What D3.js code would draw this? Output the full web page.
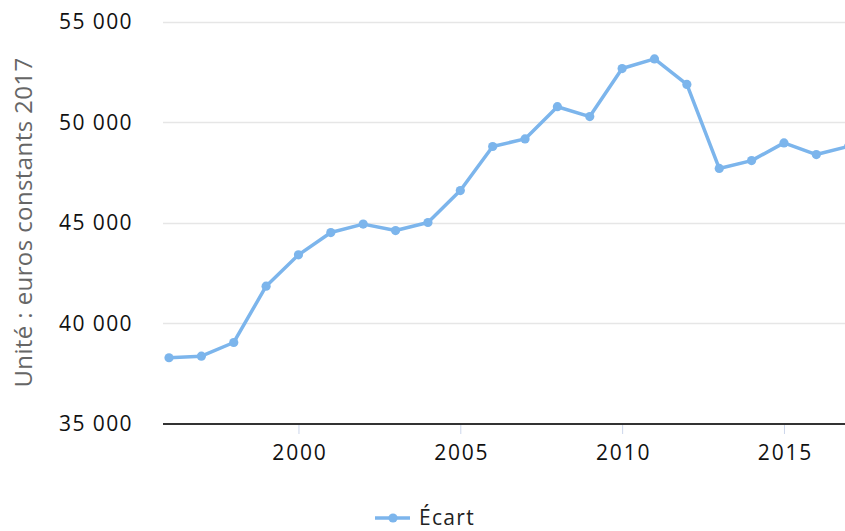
<!DOCTYPE html>
<html><head><meta charset="utf-8">
<script src="https://cdn.jsdelivr.net/npm/d3@7"></script>
<style>body{margin:0;background:#fff}svg{display:block}text{font-family:"Open Sans",sans-serif}</style>
</head><body>
<svg id="c" width="845" height="531"></svg>
<script>
const years = [1996,1997,1998,1999,2000,2001,2002,2003,2004,2005,2006,2007,2008,2009,2010,2011,2012,2013,2014,2015,2016,2017];
const ecart = [38270,38350,39030,41830,43390,44500,44920,44600,45000,46590,48780,49160,50760,50270,52660,53140,51870,47690,48080,48960,48380,48790];
const yTicks = [35000,40000,45000,50000,55000];
const xTicks = [2000,2005,2010,2015];
const seriesName = "Écart";
const yTitle = "Unité : euros constants 2017";

const svg = d3.select("#c");
const x = d3.scaleLinear().domain([1996,2017]).range([169,848.7]);
const y = d3.scaleLinear().domain([35000,55000]).range([423.5,21.5]);
const fmt = v => d3.format(",")(v).replace(/,/g," ");

// grid
svg.append("g").selectAll("line").data(yTicks.slice(1)).join("line")
  .attr("x1",163).attr("x2",845).attr("y1",d=>Math.round(y(d))+0.5).attr("y2",d=>Math.round(y(d))+0.5)
  .attr("stroke","#e6e6e6").attr("stroke-width",1.5);

// y labels
svg.append("g").selectAll("text").data(yTicks).join("text")
  .attr("x",133).attr("y",d=>y(d)+7.5).attr("text-anchor","end")
  .attr("font-size",21).attr("letter-spacing",1.4).attr("fill","#111").text(fmt);

// y title
svg.append("text").attr("transform",`translate(32,${(y(35000)+y(55000))/2}) rotate(-90)`)
  .attr("text-anchor","middle").attr("font-size",24).attr("letter-spacing",0.4).attr("fill","#666").text(yTitle);

// x axis
const xa = svg.append("g").attr("transform","translate(0,424)")
  .call(d3.axisBottom(x).tickValues(xTicks).tickFormat(d3.format("d")).tickSize(10).tickPadding(8));
xa.select(".domain").remove();
xa.selectAll(".tick line").attr("stroke","#ccd6eb");
xa.selectAll(".tick text").attr("font-size",21).attr("letter-spacing",1.8).attr("fill","#111")
  .attr("font-family","Open Sans, sans-serif").attr("y",36).attr("dy",null).attr("dx",1);
svg.append("line").attr("x1",163).attr("x2",845).attr("y1",424).attr("y2",424).attr("stroke","#333").attr("stroke-width",2);

// line
const data = years.map((yr,i)=>({yr,v:ecart[i]}));
svg.append("path").datum(data)
  .attr("d",d3.line().x(d=>x(d.yr)).y(d=>y(d.v)))
  .attr("fill","none").attr("stroke","#7cb5ec").attr("stroke-width",3.5).attr("stroke-linejoin","round");
svg.append("g").selectAll("circle").data(data).join("circle")
  .attr("cx",d=>x(d.yr)).attr("cy",d=>y(d.v)).attr("r",4.6).attr("fill","#7cb5ec");

// legend
const lg = svg.append("g").attr("transform","translate(375,518)");
lg.append("line").attr("x1",0).attr("x2",35).attr("y1",0).attr("y2",0).attr("stroke","#7cb5ec").attr("stroke-width",3.5);
lg.append("circle").attr("cx",18).attr("cy",0).attr("r",4.6).attr("fill","#7cb5ec");
lg.append("text").attr("x",44).attr("y",7).attr("font-size",21).attr("letter-spacing",1.3).attr("fill","#222").text(seriesName);
</script>
</body></html>
